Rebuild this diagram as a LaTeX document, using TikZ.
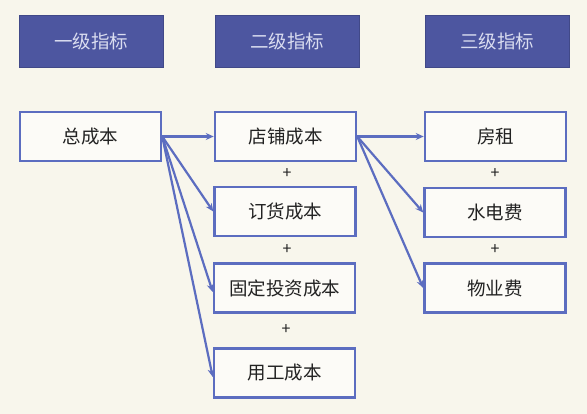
\documentclass[tikz,border=0pt]{standalone}
\usepackage{fontspec}
\setmainfont{Noto Sans CJK SC}
\usetikzlibrary{arrows.meta}
\definecolor{bgc}{HTML}{F8F6EC}
\definecolor{hdr}{HTML}{4D56A0}
\definecolor{hdrtxt}{HTML}{DADDF0}
\definecolor{bord}{HTML}{5C6DC0}
\definecolor{txt}{HTML}{222222}
\tikzset{
  hdrbox/.style={draw=hdr!85!black, line width=0.8pt, fill=hdr, text=hdrtxt, minimum width=144pt, minimum height=52pt, inner sep=0pt, font=\fontsize{18.5}{18.5}\selectfont},
  itembox/.style={draw=bord, line width=2.5pt, fill=white!60!bgc, text=txt, minimum width=141pt, minimum height=49pt, inner sep=0pt, font=\fontsize{18.5}{18.5}\selectfont},
  plus/.style={text=txt, font=\fontsize{16}{16}\selectfont, inner sep=0pt},
  link/.style={draw=bord, line width=2.2pt, -{Stealth[length=8pt,width=7pt]}},
}
\begin{document}
\begin{tikzpicture}[x=1pt,y=-1pt]
\fill[bgc] (0,0) rectangle (587,414);
\useasboundingbox (0,0) rectangle (587,414);
\node[hdrbox] (h1) at (91,41) {一级指标};
\node[hdrbox] (h2) at (287,41) {二级指标};
\node[hdrbox] (h3) at (497,41) {三级指标};

\node[itembox] (total) at (90.5,136.5) {总成本};
\node[itembox] (store) at (285.5,136.5) {店铺成本};
\node[itembox] (order) at (285,211.5) {订货成本};
\node[itembox] (fixed) at (284.5,288) {固定投资成本};
\node[itembox] (labor) at (284.5,373) {用工成本};

\node[itembox] (rent) at (495.5,136.5) {房租};
\node[itembox] (util) at (495,212.5) {水电费};
\node[itembox] (prop) at (495,288) {物业费};

\node[plus] (p1) at (287,174) {+};
\node[plus] (p2) at (287,250) {+};
\node[plus] (p3) at (286,330) {+};
\node[plus] (p4) at (495,174) {+};
\node[plus] (p5) at (495,250) {+};

\coordinate (ts) at (total.east);
\coordinate (ss) at (store.east);
\draw[link] (ts) -- (store.west);
\draw[link] (ts) -- (order.west);
\draw[link] (ts) -- ([yshift=-4pt]fixed.west);
\draw[link] (ts) -- ([yshift=-4pt]labor.west);
\draw[link] (ss) -- (rent.west);
\draw[link] (ss) -- (util.west);
\draw[link] (ss) -- (prop.west);
\end{tikzpicture}
\end{document}
